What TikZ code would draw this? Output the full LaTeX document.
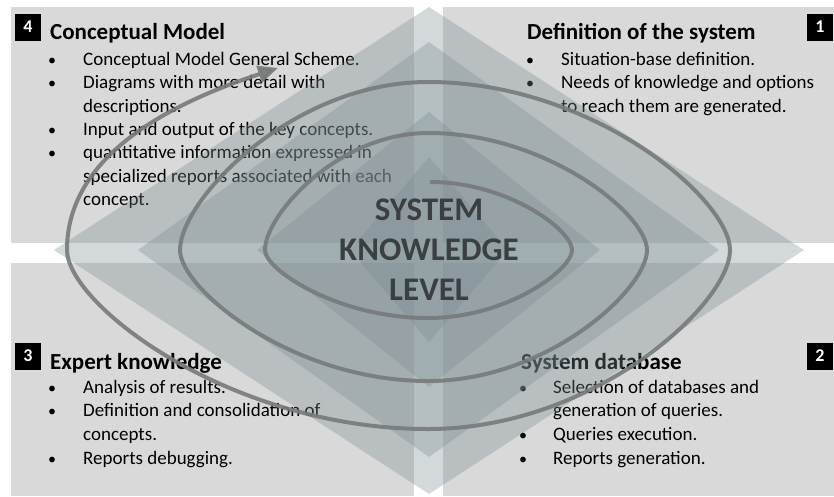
\documentclass[tikz,border=0pt]{standalone}
\usepackage{fontspec}
\setmainfont{Carlito}
\usetikzlibrary{arrows.meta}
\definecolor{panel}{RGB}{217,217,217}
\definecolor{dia}{RGB}{122,140,145}
\definecolor{spir}{RGB}{118,122,123}
\definecolor{ctext}{RGB}{58,64,66}
\begin{document}
\begin{tikzpicture}[x=1pt,y=-1pt,
  body/.style={anchor=base west, inner sep=0pt, font=\fontsize{19}{23}\selectfont},
  bul/.style={anchor=base west, inner sep=0pt, font=\fontsize{16}{23}\selectfont},
  ttl/.style={anchor=base west, inner sep=0pt, font=\fontsize{23}{26}\selectfont\bfseries},
  numbox/.style={fill=black, text=white, inner sep=0pt, minimum width=26pt, minimum height=27pt, font=\fontsize{18}{18}\selectfont\bfseries},
  diam/.style={fill=dia, opacity=0.33},
  spiral/.style={draw=spir, line width=4pt, opacity=0.9}]
\useasboundingbox (0,0) rectangle (834,496);
\fill[white] (0,0) rectangle (834,496);
% panels
\fill[panel] (11,7) rectangle (414,243);
\fill[panel] (443,7) rectangle (834,243);
\fill[panel] (11,263) rectangle (414,496);
\fill[panel] (443,263) rectangle (834,496);
% texts top-left
\node[ttl] (tlt) at (50,39) {Conceptual Model};
\node[bul] (tlb1) at (48,65) {•};
\node[body] (tl1) at (83,65) {Conceptual Model General Scheme.};
\node[bul] (tlb2) at (48,88) {•};
\node[body] (tl2) at (83,88) {Diagrams with more detail with};
\node[body] (tl3) at (83,112) {descriptions.};
\node[bul] (tlb4) at (48,135) {•};
\node[body] (tl4) at (83,135) {Input and output of the key concepts.};
\node[bul] (tlb5) at (48,158) {•};
\node[body] (tl5) at (83,158) {quantitative information expressed in};
\node[body] (tl6) at (83,182) {specialized reports associated with each};
\node[body] (tl7) at (83,205) {concept.};
% texts top-right
\node[ttl] (trt) at (527,39) {Definition of the system};
\node[bul] (trb1) at (526,65) {•};
\node[body] (tr1) at (561,65) {Situation-base definition.};
\node[bul] (trb2) at (526,88) {•};
\node[body] (tr2) at (561,88) {Needs of knowledge and options};
\node[body] (tr3) at (561,112) {to reach them are generated.};
% texts bottom-left
\node[ttl] (blt) at (50,369) {Expert knowledge};
\node[bul] (blb1) at (48,393) {•};
\node[body] (bl1) at (83,393) {Analysis of results.};
\node[bul] (blb2) at (48,416) {•};
\node[body] (bl2) at (83,416) {Definition and consolidation of};
\node[body] (bl3) at (83,440) {concepts.};
\node[bul] (blb4) at (48,464) {•};
\node[body] (bl4) at (83,464) {Reports debugging.};
% texts bottom-right
\node[ttl] (brt) at (521,369) {System database};
\node[bul] (brb1) at (519,393) {•};
\node[body] (br1) at (553,393) {Selection of databases and};
\node[body] (br2) at (553,416) {generation of queries.};
\node[bul] (brb3) at (519,440) {•};
\node[body] (br3) at (553,440) {Queries execution.};
\node[bul] (brb4) at (519,464) {•};
\node[body] (br4) at (553,464) {Reports generation.};
% number boxes
\node[numbox] (n4) at (28,27) {4};
\node[numbox] (n1) at (820,27) {1};
\node[numbox] (n3) at (28,356) {3};
\node[numbox] (n2) at (820,356) {2};
% diamonds
\fill[diam] (429,7) -- (804,250) -- (429,494) -- (54,250) -- cycle;
\fill[diam] (429,42) -- (719,250) -- (429,457) -- (138,250) -- cycle;
\fill[diam] (429,112) -- (600,250) -- (429,387) -- (257,250) -- cycle;
\fill[diam] (429,157) -- (508,250) -- (429,342) -- (350,250) -- cycle;
% spiral
\coordinate (s0) at (430,182);
\coordinate (r1) at (572,250);
\coordinate (b1) at (428,318);
\coordinate (l1) at (265,250);
\coordinate (t1) at (428,133);
\coordinate (r2) at (647,250);
\coordinate (b2) at (428,381);
\coordinate (l2) at (180,250);
\coordinate (t2) at (428,82);
\coordinate (r3) at (730,250);
\coordinate (b3) at (428,429);
\coordinate (l3) at (67,250);
\coordinate (se) at (278,68);
\draw[spiral, -{Triangle[length=20pt,width=17pt]}]
  (s0) .. controls (508,182) and (572,230) .. (r1)
       .. controls (572,270) and (507,318) .. (b1)
       .. controls (338,318) and (265,270) .. (l1)
       .. controls (265,215) and (338,133) .. (t1)
       .. controls (548,133) and (647,215) .. (r2)
       .. controls (647,289) and (548,381) .. (b2)
       .. controls (292,381) and (180,289) .. (l2)
       .. controls (180,200) and (292,82) .. (t2)
       .. controls (594,82) and (730,200) .. (r3)
       .. controls (730,304) and (594,429) .. (b3)
       .. controls (229,429) and (67,304) .. (l3)
       .. controls (67,165) and (150,110) .. (se);
% centre text
\node[align=center, text=ctext, inner sep=0pt, font=\fontsize{33}{40}\selectfont\bfseries] (ctr) at (429,250) {SYSTEM\\KNOWLEDGE\\LEVEL};
\end{tikzpicture}
\end{document}
